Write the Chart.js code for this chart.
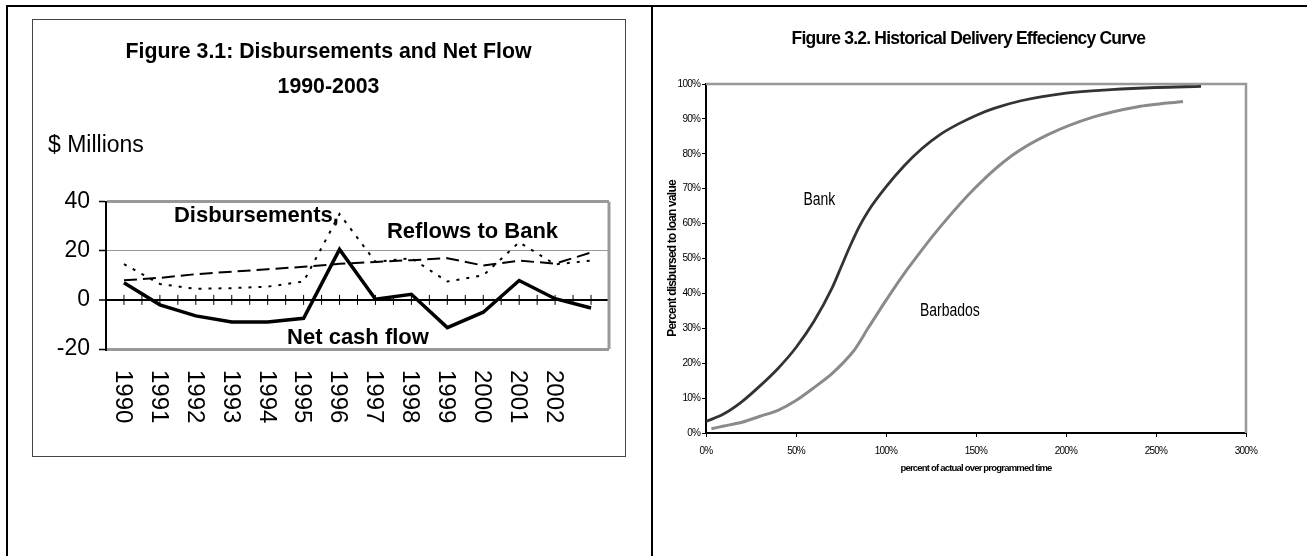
<!DOCTYPE html>
<html>
<head>
<meta charset="utf-8">
<title>Figures 3.1 and 3.2</title>
<script src="https://cdn.jsdelivr.net/npm/chart.js@4.4.1/dist/chart.umd.min.js"></script>
<style>
  html, body { margin: 0; padding: 0; background: #fff; }
  body { width: 1307px; height: 556px; position: relative; overflow: hidden; }
  .rule { position: absolute; background: #000; }
  #box31 { position: absolute; left: 32px; top: 19px; width: 592px; height: 436px; border: 1px solid #444; }
  #fig31 { position: absolute; left: 0; top: 0; }
  #fig32 { position: absolute; left: 654px; top: 8px; }
</style>
</head>
<body>
<div class="rule" style="left:6px;top:5px;width:1301px;height:2px"></div>
<div class="rule" style="left:6px;top:5px;width:2px;height:551px"></div>
<div class="rule" style="left:651px;top:5px;width:2px;height:551px"></div>
<div id="box31"><canvas id="fig31" width="592" height="436"></canvas></div>
<canvas id="fig32" width="653" height="548"></canvas>
<script>
// ====== Figure 3.1 data ($ millions) ======
const years = ['1990', '1991', '1992', '1993', '1994', '1995', '1996',
               '1997', '1998', '1999', '2000', '2001', '2002', '2003'];
const yearTicks = ['1990', '1991', '1992', '1993', '1994', '1995', '1996',
                   '1997', '1998', '1999', '2000', '2001', '2002', ''];
const disbursements = [14.6, 6.5, 4.5, 4.8, 5.4, 7.5, 35, 15.5, 17, 7.5, 10, 23.5, 14.5, 16];
const reflowsToBank = [8, 9, 10.5, 11.5, 12.5, 13.5, 14.7, 15.5, 16.2, 17, 14, 16, 14.8, 19.3];
const netCashFlow = [7, -2, -6.5, -9, -9, -7.5, 20.6, 0.3, 2.3, -11.3, -5, 7.9, 0.5, -3.3];

// ====== Figure 3.2 data (percent) ======
const bankTime = [0, 10, 20, 30, 40, 50, 60, 70, 75, 80, 85, 90, 100, 110, 120, 130, 140, 150, 160, 175, 200, 225, 250, 275];
const bankDisbursed = [3.3, 5.5, 9, 13.5, 18.5, 24.5, 32, 41.5, 47.5, 53.5, 59, 63.5, 70.5, 76.5, 81.5, 85.5, 88.5, 91, 93, 95.2, 97.4, 98.4, 99, 99.3];
const barbadosTime = [3, 10, 20, 30, 40, 50, 60, 70, 82, 90, 100, 112, 130, 150, 170, 190, 215, 240, 265];
const barbadosDisbursed = [1.2, 2, 3.1, 4.8, 6.5, 9.3, 13, 17, 23.5, 30, 38, 47, 59, 70.5, 79.5, 85.5, 90.5, 93.5, 95];

const SANS = "'Liberation Sans', Arial, sans-serif";

Chart.defaults.font.family = SANS;
Chart.defaults.color = '#000';

// plot frame, zero-line ticks, rotated year labels and series names
const fig31Extras = {
  id: 'fig31Extras',
  beforeDatasetsDraw(chart) {
    const { ctx, chartArea, scales: { x, y } } = chart;
    const y0 = y.getPixelForValue(0);
    ctx.save();
    ctx.strokeStyle = '#999';
    ctx.lineWidth = 3;
    ctx.beginPath();
    ctx.moveTo(chartArea.right, chartArea.top);
    ctx.lineTo(chartArea.right, chartArea.bottom);
    ctx.stroke();

    ctx.strokeStyle = '#000';
    ctx.lineWidth = 1;
    ctx.beginPath();
    const half = (x.getPixelForTick(1) - x.getPixelForTick(0)) / 2;
    for (let i = 0; i < years.length; i++) {
      const px = x.getPixelForTick(i);
      [px, px + half].forEach(p => {
        if (p < chartArea.right - 2) {
          ctx.moveTo(p, y0 - 5);
          ctx.lineTo(p, y0 + 5);
        }
      });
    }
    ctx.stroke();
    ctx.restore();
  },
  afterDraw(chart) {
    const { ctx, chartArea, scales: { x, y } } = chart;
    ctx.save();
    ctx.fillStyle = '#000';

    // year labels run downwards (rotated clockwise)
    ctx.font = '24px ' + SANS;
    ctx.textAlign = 'left';
    ctx.textBaseline = 'middle';
    yearTicks.forEach((label, i) => {
      ctx.save();
      ctx.translate(x.getPixelForTick(i) - 1.5, chartArea.bottom + 21);
      ctx.rotate(Math.PI / 2);
      ctx.fillText(label, 0, 0);
      ctx.restore();
    });

    // series names written on the plot
    ctx.font = 'bold 22px ' + SANS;
    ctx.textBaseline = 'alphabetic';
    ctx.fillText('Disbursements,', x.getPixelForValue(1.39), y.getPixelForValue(31.9));
    ctx.fillText('Reflows to Bank', x.getPixelForValue(7.32), y.getPixelForValue(25.4));
    ctx.fillText('Net cash flow', x.getPixelForValue(4.54), y.getPixelForValue(-18));
    ctx.restore();
  }
};

new Chart(document.getElementById('fig31'), {
  type: 'line',
  data: {
    labels: years,
    datasets: [
      {
        label: 'Disbursements',
        data: disbursements,
        borderColor: '#000',
        borderWidth: 2,
        borderDash: [3, 7],
        pointRadius: 0,
        tension: 0
      },
      {
        label: 'Reflows to Bank',
        data: reflowsToBank,
        borderColor: '#000',
        borderWidth: 2,
        borderDash: [13, 6],
        pointRadius: 0,
        tension: 0
      },
      {
        label: 'Net cash flow',
        data: netCashFlow,
        borderColor: '#000',
        borderWidth: 3.5,
        pointRadius: 0,
        tension: 0
      }
    ]
  },
  options: {
    responsive: false,
    devicePixelRatio: 1,
    animation: false,
    layout: { padding: { left: 15, right: 16, top: 0, bottom: 0 } },
    plugins: {
      legend: { display: false },
      tooltip: { enabled: false },
      title: {
        display: true,
        text: ['Figure 3.1: Disbursements and Net Flow', '1990-2003'],
        color: '#000',
        font: { family: SANS, size: 21.3, weight: 'bold', lineHeight: 1.6 },
        padding: { top: 15.5, bottom: 0 }
      },
      subtitle: {
        display: true,
        text: '$ Millions',
        align: 'start',
        color: '#000',
        font: { family: SANS, size: 23, weight: 'normal', lineHeight: 1.2 },
        padding: { top: 28, bottom: 42.5 }
      }
    },
    scales: {
      x: {
        type: 'category',
        offset: true,
        grid: { display: false },
        border: { display: false },
        ticks: { display: false },
        afterFit: s => { s.height = 107; }
      },
      y: {
        min: -20,
        max: 40,
        ticks: { stepSize: 20, color: '#000', font: { size: 23 }, padding: 9 },
        grid: {
          color: c => (c.tick.value === 0 ? '#000' : '#999'),
          lineWidth: c => (c.tick.value === 0 ? 2 : (c.tick.value === 20 ? 1 : 3)),
          tickColor: '#000',
          tickWidth: 1.5,
          tickLength: 7
        },
        border: { color: '#000', width: 2 },
        afterFit: s => { s.width = 58; }
      }
    }
  },
  plugins: [fig31Extras]
});

// tight text, top and right frame lines, curve names
const fig32Extras = {
  id: 'fig32Extras',
  beforeDraw(chart) {
    // the original figure uses a narrow face; tighten the spacing to match
    chart.ctx.letterSpacing = '-0.8px';
  },
  beforeDatasetsDraw(chart) {
    const { ctx, chartArea } = chart;
    ctx.save();
    ctx.strokeStyle = '#999';
    ctx.lineWidth = 2.5;
    ctx.beginPath();
    ctx.moveTo(chartArea.left, chartArea.top);
    ctx.lineTo(chartArea.right, chartArea.top);
    ctx.lineTo(chartArea.right, chartArea.bottom);
    ctx.stroke();
    ctx.restore();
  },
  afterDatasetsDraw(chart) {
    const { ctx, scales: { x, y } } = chart;
    const names = [['Bank', 63, 66.8], ['Barbados', 135.5, 35]];
    ctx.save();
    ctx.letterSpacing = '0px';
    ctx.fillStyle = '#000';
    ctx.font = '17.5px ' + SANS;
    ctx.textAlign = 'center';
    ctx.textBaseline = 'middle';
    names.forEach(([text, px, py]) => {
      ctx.save();
      ctx.translate(x.getPixelForValue(px), y.getPixelForValue(py));
      ctx.scale(0.8, 1);
      ctx.fillText(text, 0, 0);
      ctx.restore();
    });
    ctx.restore();
  }
};

new Chart(document.getElementById('fig32'), {
  type: 'line',
  data: {
    datasets: [
      {
        label: 'Bank',
        data: bankTime.map((t, i) => ({ x: t, y: bankDisbursed[i] })),
        borderColor: '#333',
        borderWidth: 2.8,
        pointRadius: 0,
        cubicInterpolationMode: 'monotone'
      },
      {
        label: 'Barbados',
        data: barbadosTime.map((t, i) => ({ x: t, y: barbadosDisbursed[i] })),
        borderColor: '#8a8a8a',
        borderWidth: 3,
        pointRadius: 0,
        tension: 0.25
      }
    ]
  },
  options: {
    responsive: false,
    devicePixelRatio: 1,
    animation: false,
    layout: { padding: { left: 8, right: 32.3, top: 0, bottom: 78 } },
    plugins: {
      legend: { display: false },
      tooltip: { enabled: false },
      title: {
        display: true,
        text: 'Figure 3.2. Historical Delivery Effeciency Curve',
        color: '#000',
        font: { family: SANS, size: 17.5, weight: 'bold', lineHeight: 1.2 },
        padding: { top: 20.5, bottom: 34.5 }
      }
    },
    scales: {
      x: {
        type: 'linear',
        min: 0,
        max: 300,
        ticks: { stepSize: 50, callback: v => v + '%', color: '#000', font: { size: 10 }, padding: 8 },
        grid: { drawOnChartArea: false, color: '#000', tickLength: 4 },
        border: { color: '#000', width: 2 },
        title: {
          display: true,
          text: 'percent of actual over programmed time',
          color: '#000',
          font: { size: 9.5, weight: 'bold' },
          padding: { top: 4, bottom: 4 }
        },
        afterFit: s => { s.height = 45; }
      },
      y: {
        min: 0,
        max: 100,
        ticks: { stepSize: 10, callback: v => v + '%', color: '#000', font: { size: 10 }, padding: 2 },
        grid: { drawOnChartArea: false, color: '#000', tickLength: 4 },
        border: { color: '#000', width: 2 },
        title: {
          display: true,
          text: 'Percent disbursed to loan value',
          color: '#000',
          font: { size: 12, weight: 'bold' },
          padding: { top: 3, bottom: 4 }
        },
        afterFit: s => { s.width = 44; }
      },
      y2: {
        position: 'right',
        min: 0,
        max: 100,
        grid: { display: false },
        ticks: { display: false },
        border: { display: false },
        afterFit: s => { s.width = 28.7; }
      }
    }
  },
  plugins: [fig32Extras]
});
</script>
</body>
</html>
